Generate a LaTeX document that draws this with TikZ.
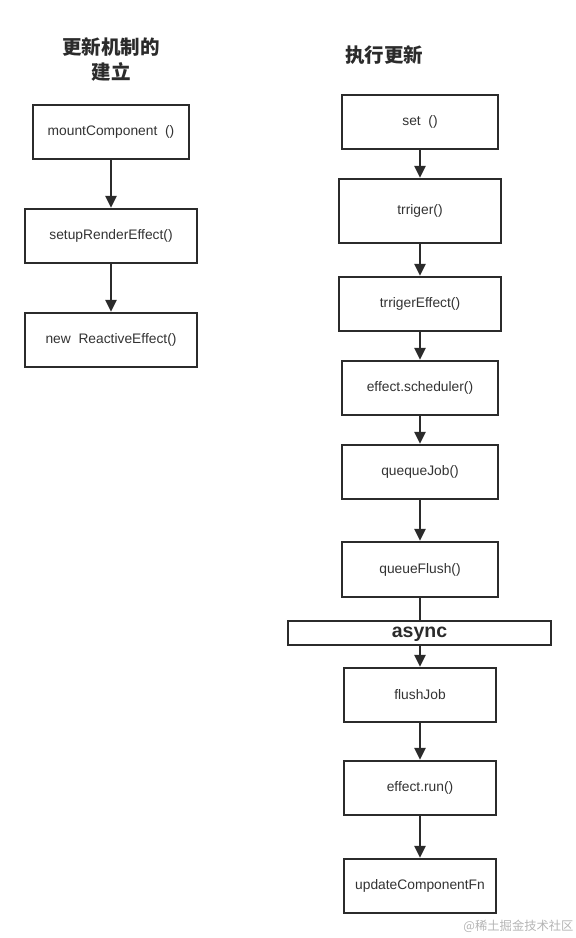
\documentclass[tikz,border=0pt]{standalone}
\usepackage{fontspec}
\setmainfont{Liberation Sans}
\newfontfamily\cjk{Noto Sans CJK SC}
\usetikzlibrary{arrows.meta}
\definecolor{ink}{HTML}{2B2B2B}
\definecolor{txt}{HTML}{333333}
\definecolor{wm}{HTML}{B4B4B4}
\tikzset{
  box/.style={draw=ink, line width=2.4pt, fill=white, inner sep=0pt, text=txt,
    font=\fontsize{13.8}{16}\selectfont},
  title/.style={font=\cjk\bfseries\fontsize{19.5}{25}\selectfont, text=ink, align=center, inner sep=0pt},
  flow/.style={draw=ink, line width=2.4pt, -{Triangle[length=12pt,width=11pt]}},
  plain/.style={draw=ink, line width=2.4pt},
}
\begin{document}
\begin{tikzpicture}[x=1pt,y=-1pt]
\useasboundingbox (0,0) rectangle (576,938);
% left column
\node[title] (tl) at (111,59.5) {更新机制的\\建立};
\node[box, minimum width=156pt, minimum height=54pt] (b1) at (111,132) {mountComponent\ \ ()};
\node[box, minimum width=172pt, minimum height=54pt] (b2) at (111,236) {setupRenderEffect()};
\node[box, minimum width=172pt, minimum height=54pt] (b3) at (111,340) {new\ \ ReactiveEffect()};
\draw[flow] (b1) -- (b2);
\draw[flow] (b2) -- (b3);
% right column
\node[title] (tr) at (384,55) {执行更新};
\node[box, minimum width=156pt, minimum height=54pt] (r1) at (420,122) {set\ \ ()};
\node[box, minimum width=162pt, minimum height=64pt] (r2) at (420,211) {trriger()};
\node[box, minimum width=162pt, minimum height=54pt] (r3) at (420,304) {trrigerEffect()};
\node[box, minimum width=156pt, minimum height=54pt] (r4) at (420,388) {effect.scheduler()};
\node[box, minimum width=156pt, minimum height=54pt] (r5) at (420,472) {quequeJob()};
\node[box, minimum width=156pt, minimum height=55pt] (r6) at (420,569.5) {queueFlush()};
\node[box, minimum width=263pt, minimum height=24pt, text=ink] (as) at (419.5,633) {};
\node[font=\bfseries\fontsize{19.5}{22}\selectfont, text=ink, inner sep=0pt] (ast) at (419.5,634.5) {async};
\node[box, minimum width=152pt, minimum height=54pt] (r7) at (420,695) {flushJob};
\node[box, minimum width=152pt, minimum height=54pt] (r8) at (420,788) {effect.run()};
\node[box, minimum width=152pt, minimum height=54pt] (r9) at (420,886) {updateComponentFn};
\draw[flow] (r1) -- (r2);
\draw[flow] (r2) -- (r3);
\draw[flow] (r3) -- (r4);
\draw[flow] (r4) -- (r5);
\draw[flow] (r5) -- (r6);
\draw[plain] (r6.south) -- (r6.south |- as.north);
\draw[flow] (as.south -| r7.north) -- (r7.north);
\draw[flow] (r7) -- (r8);
\draw[flow] (r8) -- (r9);
% watermark
\node[text=wm, font=\cjk\fontsize{12.3}{15}\selectfont, inner sep=0pt] (wmk) at (518.5,926) {@稀土掘金技术社区};
\end{tikzpicture}
\end{document}
